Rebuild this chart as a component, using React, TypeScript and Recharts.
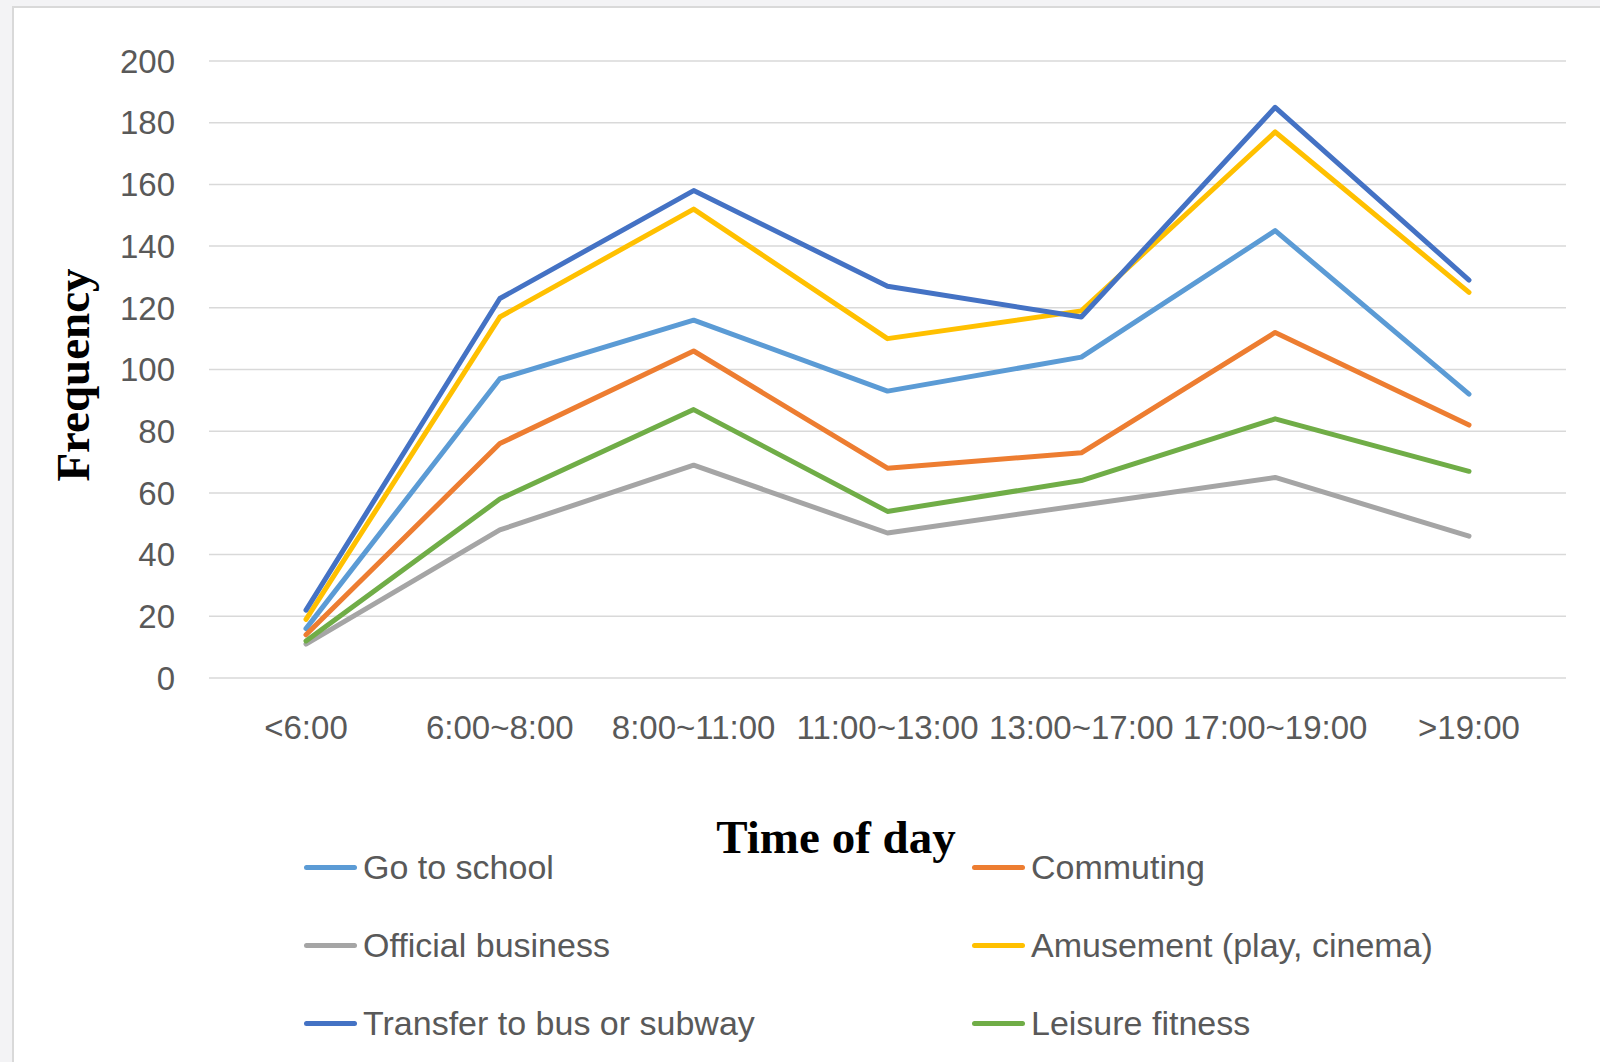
import { LineChart, Line, XAxis, YAxis, CartesianGrid, Legend, Label } from "recharts"

const categories = ["<6:00", "6:00~8:00", "8:00~11:00", "11:00~13:00", "13:00~17:00", "17:00~19:00", ">19:00"]
const goToSchool = [16, 97, 116, 93, 104, 145, 92]
const commuting = [14, 76, 106, 68, 73, 112, 82]
const officialBusiness = [11, 48, 69, 47, 56, 65, 46]
const amusement = [19, 117, 152, 110, 119, 177, 125]
const transferBusSubway = [22, 123, 158, 127, 117, 185, 129]
const leisureFitness = [12, 58, 87, 54, 64, 84, 67]
const yTicks = [0, 20, 40, 60, 80, 100, 120, 140, 160, 180, 200]

const series = [
  { key: "school", name: "Go to school", values: goToSchool, color: "#5B9BD5" },
  { key: "commuting", name: "Commuting", values: commuting, color: "#ED7D31" },
  { key: "official", name: "Official business", values: officialBusiness, color: "#A5A5A5" },
  { key: "amusement", name: "Amusement (play, cinema)", values: amusement, color: "#FFC000" },
  { key: "transfer", name: "Transfer to bus or subway", values: transferBusSubway, color: "#4472C4" },
  { key: "leisure", name: "Leisure fitness", values: leisureFitness, color: "#70AD47" },
]

const data = categories.map((time, i) => {
  const row: Record<string, string | number> = { time }
  series.forEach((s) => {
    row[s.key] = s.values[i]
  })
  return row
})

const sans = "'Liberation Sans', Arial, sans-serif"
const serif = "'Liberation Serif', 'Times New Roman', serif"

// legend keeps the series order (row by row, two columns)
function LegendGrid() {
  return (
    <div style={{ position: "relative", width: 1600, height: 1062 }}>
      {series.map((item, i) => {
        const col = i % 2
        const row = Math.floor(i / 2)
        return (
          <div
            key={item.key}
            style={{
              position: "absolute",
              left: col ? 972 : 304,
              top: 867 + row * 78 - 22,
              height: 44,
              display: "flex",
              alignItems: "center",
            }}
          >
            <span
              style={{ display: "inline-block", width: 53, height: 5, borderRadius: 3, background: item.color, marginRight: 6 }}
            />
            <span style={{ fontSize: 34, color: "#595959", fontFamily: sans, whiteSpace: "nowrap" }}>{item.name}</span>
          </div>
        )
      })}
    </div>
  )
}

export default function App() {
  return (
    <div style={{ position: "absolute", left: 0, top: 0, width: 1600, height: 1062, background: "#f3f3f5", overflow: "hidden" }}>
      <div
        style={{
          position: "absolute",
          left: 12,
          top: 6,
          width: 1640,
          height: 1100,
          background: "#ffffff",
          border: "2px solid #d9d9d9",
        }}
      />
      <div style={{ position: "absolute", left: 0, top: 0 }}>
        <LineChart width={1600} height={1062} data={data} margin={{ top: 61, right: 34, bottom: 304, left: 0 }}>
          <CartesianGrid vertical={false} stroke="#d9d9d9" strokeWidth={1.5} />
          <XAxis
            dataKey="time"
            height={80}
            padding={{ left: 97, right: 97 }}
            axisLine={false}
            tickLine={false}
            tickSize={0}
            tickMargin={38}
            interval={0}
            tick={{ fill: "#595959", fontSize: 33, fontFamily: sans }}
          >
            <Label
              content={() => (
                <text x={836} y={853} textAnchor="middle" fontFamily={serif} fontWeight="bold" fontSize={47} fill="#000">
                  Time of day
                </text>
              )}
            />
          </XAxis>
          <YAxis
            width={209}
            domain={[0, 200]}
            ticks={yTicks}
            axisLine={false}
            tickLine={false}
            tickSize={0}
            tickMargin={34}
            tick={{ fill: "#595959", fontSize: 33, fontFamily: sans }}
          >
            <Label
              content={() => (
                <text
                  x={73}
                  y={375}
                  transform="rotate(-90, 73, 375)"
                  textAnchor="middle"
                  dominantBaseline="central"
                  fontFamily={serif}
                  fontWeight="bold"
                  fontSize={47}
                  fill="#000"
                >
                  Frequency
                </text>
              )}
            />
          </YAxis>
          <Legend
            layout="vertical"
            align="center"
            verticalAlign="middle"
            wrapperStyle={{ left: 0, top: 0, width: 1600, height: 1062, pointerEvents: "none" }}
            content={<LegendGrid />}
          />
          {series.map((s) => (
            <Line
              key={s.key}
              type="linear"
              dataKey={s.key}
              name={s.name}
              stroke={s.color}
              strokeWidth={5}
              strokeLinecap="round"
              strokeLinejoin="round"
              dot={false}
              activeDot={false}
              isAnimationActive={false}
            />
          ))}
        </LineChart>
      </div>
    </div>
  )
}
